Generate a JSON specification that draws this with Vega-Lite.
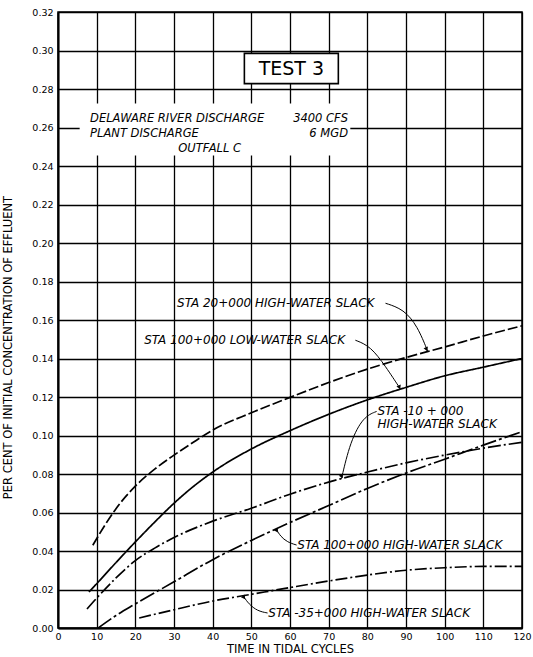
{
  "$schema": "https://vega.github.io/schema/vega-lite/v6.json",
  "width": 464,
  "height": 616,
  "autosize": {"type": "none"},
  "padding": {"left": 58, "top": 12, "right": 11, "bottom": 29},
  "background": "white",
  "config": {"view": {"stroke": "black", "strokeWidth": 1.5}, "font": "DejaVu Sans"},
  "datasets": {
    "curves": [
      {"series": "STA 20+000 HW", "t": 9, "c": 0.043},
      {"series": "STA 20+000 HW", "t": 12, "c": 0.053},
      {"series": "STA 20+000 HW", "t": 15, "c": 0.062},
      {"series": "STA 20+000 HW", "t": 20, "c": 0.0737},
      {"series": "STA 20+000 HW", "t": 25, "c": 0.0825},
      {"series": "STA 20+000 HW", "t": 30, "c": 0.0898},
      {"series": "STA 20+000 HW", "t": 35, "c": 0.0965},
      {"series": "STA 20+000 HW", "t": 40, "c": 0.1028},
      {"series": "STA 20+000 HW", "t": 50, "c": 0.1118},
      {"series": "STA 20+000 HW", "t": 60, "c": 0.1198},
      {"series": "STA 20+000 HW", "t": 70, "c": 0.1275},
      {"series": "STA 20+000 HW", "t": 80, "c": 0.1345},
      {"series": "STA 20+000 HW", "t": 90, "c": 0.1405},
      {"series": "STA 20+000 HW", "t": 100, "c": 0.146},
      {"series": "STA 20+000 HW", "t": 110, "c": 0.1517},
      {"series": "STA 20+000 HW", "t": 120, "c": 0.157},
      {"series": "STA 100+000 LW", "t": 8, "c": 0.0187},
      {"series": "STA 100+000 LW", "t": 10, "c": 0.023},
      {"series": "STA 100+000 LW", "t": 15, "c": 0.034},
      {"series": "STA 100+000 LW", "t": 20, "c": 0.0447},
      {"series": "STA 100+000 LW", "t": 25, "c": 0.055},
      {"series": "STA 100+000 LW", "t": 30, "c": 0.0648},
      {"series": "STA 100+000 LW", "t": 35, "c": 0.0735},
      {"series": "STA 100+000 LW", "t": 40, "c": 0.081},
      {"series": "STA 100+000 LW", "t": 50, "c": 0.093},
      {"series": "STA 100+000 LW", "t": 60, "c": 0.1025},
      {"series": "STA 100+000 LW", "t": 70, "c": 0.111},
      {"series": "STA 100+000 LW", "t": 80, "c": 0.1185},
      {"series": "STA 100+000 LW", "t": 90, "c": 0.125},
      {"series": "STA 100+000 LW", "t": 100, "c": 0.131},
      {"series": "STA 100+000 LW", "t": 110, "c": 0.1355},
      {"series": "STA 100+000 LW", "t": 120, "c": 0.14},
      {"series": "STA -10+000 HW", "t": 7.5, "c": 0.0099},
      {"series": "STA -10+000 HW", "t": 10, "c": 0.0155},
      {"series": "STA -10+000 HW", "t": 15, "c": 0.026},
      {"series": "STA -10+000 HW", "t": 20, "c": 0.035},
      {"series": "STA -10+000 HW", "t": 25, "c": 0.0415},
      {"series": "STA -10+000 HW", "t": 30, "c": 0.047},
      {"series": "STA -10+000 HW", "t": 40, "c": 0.0555},
      {"series": "STA -10+000 HW", "t": 50, "c": 0.0622},
      {"series": "STA -10+000 HW", "t": 60, "c": 0.0695},
      {"series": "STA -10+000 HW", "t": 70, "c": 0.0758},
      {"series": "STA -10+000 HW", "t": 80, "c": 0.081},
      {"series": "STA -10+000 HW", "t": 90, "c": 0.0858},
      {"series": "STA -10+000 HW", "t": 100, "c": 0.0898},
      {"series": "STA -10+000 HW", "t": 110, "c": 0.0934},
      {"series": "STA -10+000 HW", "t": 120, "c": 0.0965},
      {"series": "STA 100+000 HW", "t": 10.4, "c": 0.0},
      {"series": "STA 100+000 HW", "t": 15, "c": 0.0065},
      {"series": "STA 100+000 HW", "t": 20, "c": 0.0125},
      {"series": "STA 100+000 HW", "t": 30, "c": 0.024},
      {"series": "STA 100+000 HW", "t": 40, "c": 0.0355},
      {"series": "STA 100+000 HW", "t": 50, "c": 0.0455},
      {"series": "STA 100+000 HW", "t": 60, "c": 0.0548},
      {"series": "STA 100+000 HW", "t": 70, "c": 0.0636},
      {"series": "STA 100+000 HW", "t": 80, "c": 0.0725},
      {"series": "STA 100+000 HW", "t": 90, "c": 0.0805},
      {"series": "STA 100+000 HW", "t": 100, "c": 0.0877},
      {"series": "STA 100+000 HW", "t": 110, "c": 0.095},
      {"series": "STA 100+000 HW", "t": 120, "c": 0.102},
      {"series": "STA -35+000 HW", "t": 21, "c": 0.0052},
      {"series": "STA -35+000 HW", "t": 30, "c": 0.0095},
      {"series": "STA -35+000 HW", "t": 40, "c": 0.014},
      {"series": "STA -35+000 HW", "t": 50, "c": 0.0175},
      {"series": "STA -35+000 HW", "t": 60, "c": 0.021},
      {"series": "STA -35+000 HW", "t": 70, "c": 0.0244},
      {"series": "STA -35+000 HW", "t": 80, "c": 0.0275},
      {"series": "STA -35+000 HW", "t": 90, "c": 0.03},
      {"series": "STA -35+000 HW", "t": 100, "c": 0.0313},
      {"series": "STA -35+000 HW", "t": 110, "c": 0.032},
      {"series": "STA -35+000 HW", "t": 120, "c": 0.032}
    ],
    "infobox": [{"t": 5.6, "t2": 75.6, "c": 0.2455, "c2": 0.2725}],
    "testbox": [{"t": 48.2, "t2": 72.5, "c": 0.2828, "c2": 0.2985}],
    "testtext": [{"text": "TEST 3", "t": 60.35, "c": 0.2906}],
    "notes_left": [
      {"text": "DELAWARE RIVER DISCHARGE", "t": 8.3, "c": 0.2643},
      {"text": "PLANT DISCHARGE", "t": 8.3, "c": 0.2564},
      {"text": "OUTFALL  C", "t": 31.1, "c": 0.2488}
    ],
    "notes_right": [
      {"text": "3400  CFS", "t": 75, "c": 0.2643},
      {"text": "6  MGD", "t": 75, "c": 0.2564}
    ],
    "curve_labels": [
      {"text": "STA 20+000 HIGH-WATER SLACK", "t": 30.8, "c": 0.1687},
      {"text": "STA 100+000 LOW-WATER SLACK", "t": 22.3, "c": 0.1495},
      {"text": "STA -10 + 000", "t": 82.6, "c": 0.1125},
      {"text": "HIGH-WATER SLACK", "t": 82.6, "c": 0.106},
      {"text": "STA 100+000 HIGH-WATER SLACK", "t": 61.9, "c": 0.0431},
      {"text": "STA -35+000 HIGH-WATER SLACK", "t": 54.4, "c": 0.0078}
    ],
    "leaders": [
      {"leader": "a", "k": 0, "t": 84.7, "c": 0.1687},
      {"leader": "a", "k": 1, "t": 89.4, "c": 0.1656},
      {"leader": "a", "k": 2, "t": 93.0, "c": 0.1567},
      {"leader": "a", "k": 3, "t": 95.6, "c": 0.1438},
      {"leader": "b", "k": 0, "t": 76.9, "c": 0.1495},
      {"leader": "b", "k": 1, "t": 80.8, "c": 0.1464},
      {"leader": "b", "k": 2, "t": 84.7, "c": 0.136},
      {"leader": "b", "k": 3, "t": 88.6, "c": 0.124},
      {"leader": "c", "k": 0, "t": 82.4, "c": 0.1125},
      {"leader": "c", "k": 1, "t": 79.0, "c": 0.1098},
      {"leader": "c", "k": 2, "t": 75.6, "c": 0.097},
      {"leader": "c", "k": 3, "t": 73.3, "c": 0.0775},
      {"leader": "d", "k": 0, "t": 61.7, "c": 0.0431},
      {"leader": "d", "k": 1, "t": 59.3, "c": 0.0446},
      {"leader": "d", "k": 2, "t": 57.5, "c": 0.0477},
      {"leader": "d", "k": 3, "t": 56.5, "c": 0.0512},
      {"leader": "e", "k": 0, "t": 54.2, "c": 0.0078},
      {"leader": "e", "k": 1, "t": 51.6, "c": 0.0088},
      {"leader": "e", "k": 2, "t": 49.3, "c": 0.0125},
      {"leader": "e", "k": 3, "t": 48.0, "c": 0.0164}
    ],
    "tips": [
      {"leader": "a", "t": 95.3, "c": 0.1448},
      {"leader": "b", "t": 88.3, "c": 0.125},
      {"leader": "c", "t": 73.4, "c": 0.0787},
      {"leader": "d", "t": 56.6, "c": 0.0505},
      {"leader": "e", "t": 48.1, "c": 0.0158}
    ]
  },
  "encoding": {
    "x": {
      "field": "t", "type": "quantitative",
      "scale": {"domain": [0, 120], "nice": false},
      "axis": {
        "title": "TIME IN TIDAL CYCLES",
        "values": [0, 10, 20, 30, 40, 50, 60, 70, 80, 90, 100, 110, 120],
        "grid": true, "gridColor": "black", "gridWidth": 1.3, "gridOpacity": 1,
        "ticks": false, "domainColor": "black", "domainWidth": 2,
        "labelFont": "DejaVu Sans", "labelFontSize": 9.5, "labelColor": "black",
        "labelPadding": 3, "labelOverlap": false, "labelFlush": false,
        "titleFont": "DejaVu Sans", "titleFontSize": 11.5, "titleFontWeight": "normal",
        "titleColor": "black", "titleY": 21, "titleBaseline": "middle"
      }
    },
    "y": {
      "field": "c", "type": "quantitative",
      "scale": {"domain": [0, 0.32], "nice": false},
      "axis": {
        "title": "PER CENT OF INITIAL CONCENTRATION OF EFFLUENT",
        "values": [0, 0.02, 0.04, 0.06, 0.08, 0.1, 0.12, 0.14, 0.16, 0.18, 0.2, 0.22, 0.24, 0.26, 0.28, 0.3, 0.32],
        "format": ".2f",
        "grid": true, "gridColor": "black", "gridWidth": 1.3, "gridOpacity": 1,
        "ticks": false, "domainColor": "black", "domainWidth": 2,
        "labelFont": "DejaVu Sans", "labelFontSize": 9.5, "labelColor": "black",
        "labelPadding": 5, "labelOverlap": false, "labelFlush": false,
        "titleFont": "DejaVu Sans", "titleFontSize": 11.5, "titleFontWeight": "normal",
        "titleColor": "black", "titleX": -50, "titleY": 335, "titleBaseline": "middle", "titleAlign": "center"
      }
    }
  },
  "layer": [
    {
      "data": {"name": "curves"},
      "mark": {"type": "line", "color": "black", "strokeWidth": 1.7, "interpolate": "monotone"},
      "encoding": {
        "strokeDash": {
          "field": "series", "type": "nominal",
          "scale": {
            "domain": ["STA 20+000 HW", "STA 100+000 LW", "STA -10+000 HW", "STA 100+000 HW", "STA -35+000 HW"],
            "range": [[10, 3], [1, 0], [13, 3, 2, 3], [16, 3, 3, 3], [12, 3, 2, 3]]
          },
          "legend": null
        }
      }
    },
    {
      "data": {"name": "infobox"},
      "mark": {"type": "rect", "fill": "white", "stroke": null},
      "encoding": {
        "x2": {"field": "t2"},
        "y2": {"field": "c2"}
      }
    },
    {
      "data": {"name": "testbox"},
      "mark": {"type": "rect", "fill": "white", "stroke": "black", "strokeWidth": 1.6},
      "encoding": {
        "x2": {"field": "t2"},
        "y2": {"field": "c2"}
      }
    },
    {
      "data": {"name": "testtext"},
      "mark": {"type": "text", "font": "DejaVu Sans", "fontSize": 19, "align": "center", "baseline": "middle", "color": "black"},
      "encoding": {
        "text": {"field": "text"}
      }
    },
    {
      "data": {"name": "notes_left"},
      "mark": {"type": "text", "font": "DejaVu Sans", "fontStyle": "italic", "fontSize": 11.5, "align": "left", "baseline": "middle", "color": "black"},
      "encoding": {
        "text": {"field": "text"}
      }
    },
    {
      "data": {"name": "notes_right"},
      "mark": {"type": "text", "font": "DejaVu Sans", "fontStyle": "italic", "fontSize": 11.5, "align": "right", "baseline": "middle", "color": "black"},
      "encoding": {
        "text": {"field": "text"}
      }
    },
    {
      "data": {"name": "curve_labels"},
      "mark": {"type": "text", "font": "DejaVu Sans", "fontStyle": "italic", "fontSize": 12, "align": "left", "baseline": "middle", "color": "black"},
      "encoding": {
        "text": {"field": "text"}
      }
    },
    {
      "data": {"name": "leaders"},
      "mark": {"type": "line", "color": "black", "strokeWidth": 1, "interpolate": "basis"},
      "encoding": {
        "detail": {"field": "leader", "type": "nominal"},
        "order": {"field": "k", "type": "quantitative"}
      }
    },
    {
      "data": {"name": "tips"},
      "mark": {"type": "point", "shape": "triangle-up", "filled": true, "color": "black", "opacity": 1, "size": 22},
      "encoding": {
        "angle": {
          "field": "leader", "type": "nominal",
          "scale": {"domain": ["a", "b", "c", "d", "e"], "range": [158, 147, 194, 330, 328]},
          "legend": null
        }
      }
    }
  ]
}
